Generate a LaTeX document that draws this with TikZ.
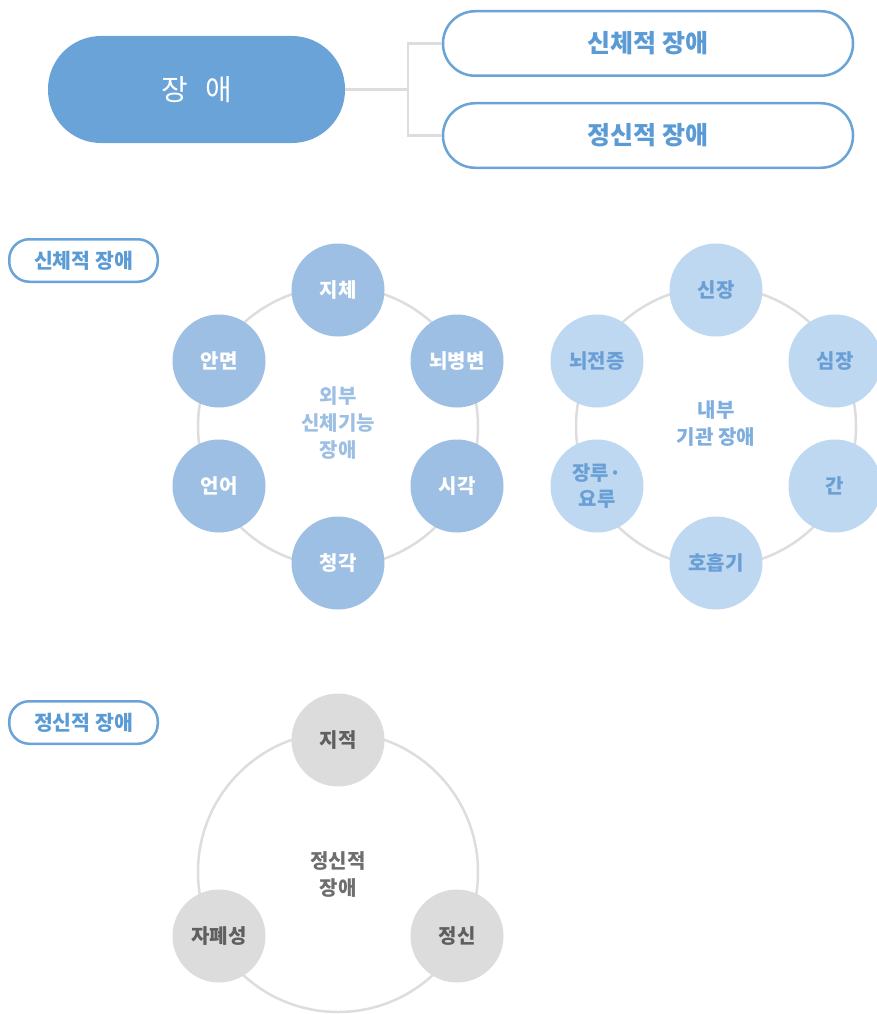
\documentclass[tikz,border=0pt]{standalone}
\usepackage{fontspec}
\setmainfont{Noto Sans CJK KR}
\definecolor{mainblue}{HTML}{6AA3D7}
\definecolor{pilltext}{HTML}{5B9BD5}
\definecolor{ringgray}{HTML}{DDDDDD}
\definecolor{extfill}{HTML}{9DBFE4}
\definecolor{intfill}{HTML}{BDD8F0}
\definecolor{inttext}{HTML}{6A9FD6}
\definecolor{intcenter}{HTML}{7FAEDF}
\definecolor{menfill}{HTML}{DCDCDC}
\definecolor{mentext}{HTML}{5F5F5F}
\definecolor{mencenter}{HTML}{6E6E6E}
\begin{document}
\begin{tikzpicture}[x=1pt,y=-1pt,
  mainpill/.style={fill=mainblue, rounded corners=53pt, minimum width=297pt, minimum height=107pt, inner sep=0pt, text=white, font=\fontsize{29}{31}\selectfont},
  toppill/.style={draw=mainblue, line width=2.5pt, fill=white, rounded corners=32pt, minimum width=410pt, minimum height=64.5pt, inner sep=0pt, text=pilltext, font=\bfseries\fontsize{25}{28}\selectfont},
  labpill/.style={draw=mainblue, line width=2.5pt, fill=white, rounded corners=20pt, minimum width=148.5pt, minimum height=42.5pt, inner sep=0pt, text=pilltext, font=\bfseries\fontsize{20.5}{23}\selectfont},
  link/.style={draw=ringgray, line width=2.5pt},
  ring/.style={draw=ringgray, line width=2.5pt},
  bub/.style={circle, minimum size=93pt, inner sep=0pt, align=center, font=\bfseries\fontsize{20}{26}\selectfont},
  extbub/.style={bub, fill=extfill, text=white},
  intbub/.style={bub, fill=intfill, text=inttext},
  menbub/.style={bub, fill=menfill, text=mentext},
  ctext/.style={align=center, font=\bfseries\fontsize{20}{27}\selectfont}
]
\useasboundingbox (0,0) rectangle (877,1014);

% top hierarchy
\node[mainpill] (main) at (196.5,89.5) {장\hspace{0.6em}애};
\node[toppill] (phys) at (648,43.5) {신체적 장애};
\node[toppill] (ment) at (648,135.5) {정신적 장애};
\coordinate (j) at (408,89.5);
\draw[link] (main.east) -- (j);
\draw[link] (j) |- (phys.west);
\draw[link] (j) |- (ment.west);

% section labels
\node[labpill] (lab1) at (83.5,260.5) {신체적 장애};
\node[labpill] (lab2) at (83.5,722.5) {정신적 장애};

% external physical ring
\coordinate (c1) at (338,426.5);
\draw[ring] (c1) circle[radius=140pt];
\node[ctext, text=extfill] (c1t) at (338,423.5) {외부\\신체기능\\장애};
\node[extbub] (e1) at (338,290) {지체};
\node[extbub] (e2) at (457,361) {뇌병변};
\node[extbub] (e3) at (457,486) {시각};
\node[extbub] (e4) at (338,563) {청각};
\node[extbub] (e5) at (219,486) {언어};
\node[extbub] (e6) at (219,361) {안면};

% internal organ ring
\coordinate (c2) at (716,426.5);
\draw[ring] (c2) circle[radius=140pt];
\node[ctext, text=intcenter] (c2t) at (716,423.5) {내부\\기관 장애};
\node[intbub] (i1) at (716,290) {신장};
\node[intbub] (i2) at (835,361) {심장};
\node[intbub] (i3) at (835,486) {간};
\node[intbub] (i4) at (716,563) {호흡기};
\node[intbub] (i5) at (597,486) {장루·\\요루};
\node[intbub] (i6) at (597,361) {뇌전증};

% mental ring
\coordinate (c3) at (338,872);
\draw[ring] (c3) circle[radius=140pt];
\node[ctext, text=mencenter] (c3t) at (338,875) {정신적\\장애};
\node[menbub] (m1) at (338,740) {지적};
\node[menbub] (m2) at (457,936) {정신};
\node[menbub] (m3) at (219,936) {자폐성};
\end{tikzpicture}
\end{document}
